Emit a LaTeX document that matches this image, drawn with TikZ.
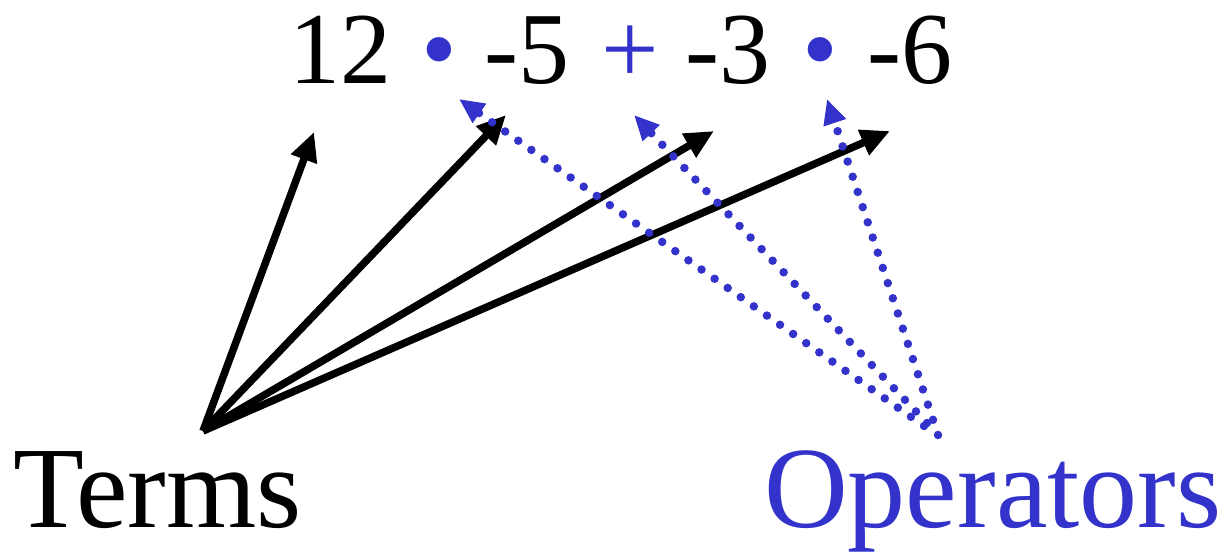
\documentclass[tikz,border=0pt]{standalone}
\usepackage{fontspec}
\setmainfont{Liberation Serif}
\usetikzlibrary{arrows.meta}
\definecolor{opblue}{RGB}{51,51,204}
\begin{document}
\begin{tikzpicture}[x=1pt,y=-1pt,
  tok/.style={anchor=base,inner sep=0pt,font=\fontsize{102}{102}\selectfont},
  optok/.style={tok,text=opblue},
  lbl/.style={anchor=base west,inner sep=0pt,font=\fontsize{116}{116}\selectfont},
  termarrow/.style={line width=7.5pt,-{Triangle[length=29pt,width=26pt]}},
  oparrow/.style={opblue,line width=8.5pt,line cap=round,dash pattern=on 0pt off 16pt,-{Triangle[length=25pt,width=22pt]}}]
\useasboundingbox (0,0) rectangle (1227,552);
% expression tokens
\node[tok]   (t1) at (340,83) {12};
\node[optok] (o1) at (439,83) {•};
\node[tok]   (t2) at (527,83) {-5};
\node[optok] (o2) at (630,83) {+};
\node[tok]   (t3) at (728,83) {-3};
\node[optok] (o3) at (820,83) {•};
\node[tok]   (t4) at (910,83) {-6};
% labels
\node[lbl] (terms) at (13,527) {Terms};
\node[lbl,text=opblue] (ops) at (764,527) {Operators};
% arrow ends
\coordinate (ts) at (203,431);
\coordinate (t1e) at (314,132);
\coordinate (t2e) at (506,115);
\coordinate (t3e) at (714,131);
\coordinate (t4e) at (890,131);
\coordinate (o1s) at (924,426);
\coordinate (o2s) at (927,423);
\coordinate (o3s) at (938,435);
\coordinate (o1e) at (459,99);
\coordinate (o2e) at (634,115);
\coordinate (o3e) at (827,99);
% term arrows
\draw[termarrow] (ts) -- (t1e);
\draw[termarrow] (ts) -- (t2e);
\draw[termarrow] (ts) -- (t3e);
\draw[termarrow] (ts) -- (t4e);
% operator arrows
\draw[oparrow] (o1s) -- (o1e);
\draw[oparrow] (o2s) -- (o2e);
\draw[oparrow] (o3s) -- (o3e);
\end{tikzpicture}
\end{document}
